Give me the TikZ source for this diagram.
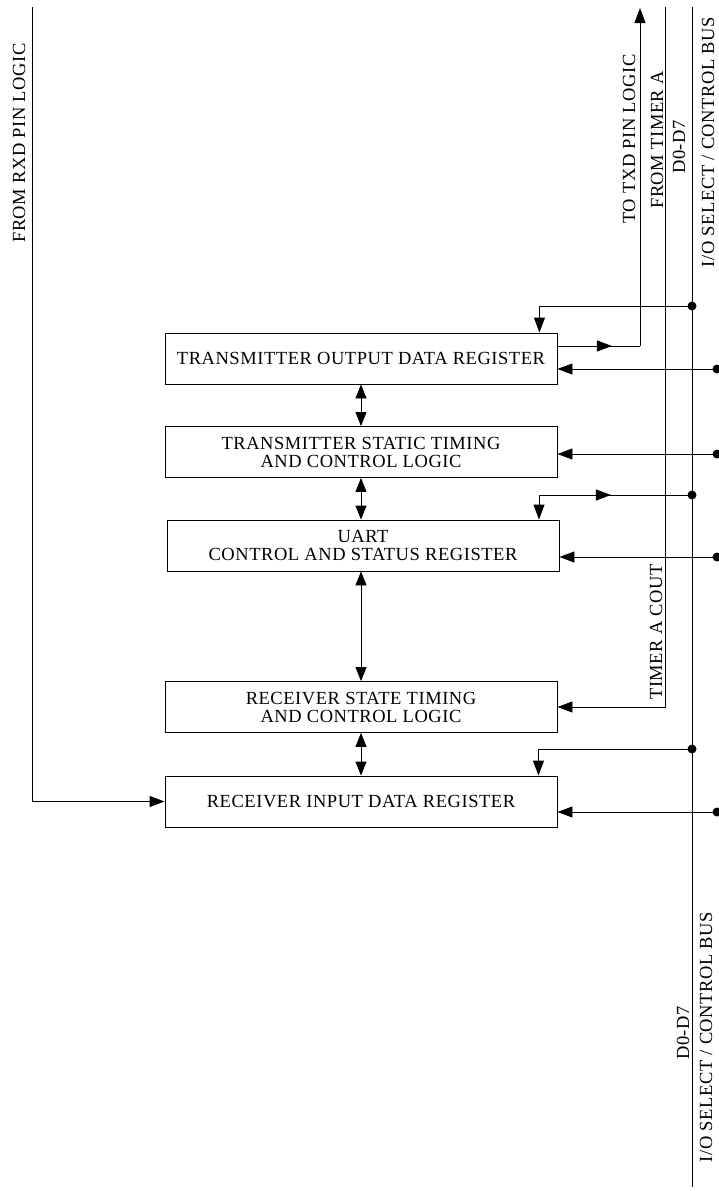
\documentclass[tikz,border=0pt]{standalone}
\usepackage{fontspec}
\setmainfont{Liberation Serif}[LetterSpace=3]
\usetikzlibrary{arrows.meta,decorations.markings}
\begin{document}
\begin{tikzpicture}[x=1pt,y=-1pt,line width=0.9pt,
  box/.style={draw,minimum width=392pt,minimum height=51pt,inner sep=0pt,align=center,font=\fontsize{18.5}{18}\selectfont},
  lbl/.style={rotate=90,inner sep=0pt,anchor=base,font=\fontsize{18.5}{18}\selectfont},
  tip/.style={-{Triangle[length=15pt,width=11pt]}},
  dbl/.style={{Triangle[length=14pt,width=11pt]}-{Triangle[length=14pt,width=11pt]}},
  dot/.style={circle,fill,inner sep=0pt,minimum size=9pt},
  midarrow/.style={postaction={decorate},decoration={markings,mark=at position #1 with {\arrow{Triangle[length=15pt,width=11pt]}}}}
]
\useasboundingbox (0,0) rectangle (718,1191);

% boxes
\node[box] (txo) at (361,358.5) {TRANSMITTER OUTPUT DATA REGISTER};
\node[box] (txs) at (361,452) {TRANSMITTER STATIC TIMING\\AND CONTROL LOGIC};
\node[box] (uart) at (363,545.5) {UART\\CONTROL AND STATUS REGISTER};
\node[box] (rxs) at (361,707) {RECEIVER STATE TIMING\\AND CONTROL LOGIC};
\node[box] (rxi) at (361,801.5) {RECEIVER INPUT DATA REGISTER};

% vertical double arrows
\draw[dbl] (txo.south) -- (txs.north);
\draw[dbl] (txs.south) -- (txs.south |- uart.north);
\draw[dbl] (txs.south |- uart.south) -- (rxs.north);
\draw[dbl] (rxs.south) -- (rxi.north);

% bus
\coordinate (bt) at (692,7);
\coordinate (bb) at (692,1187);
\draw (bt) -- (bb);
\node[dot] (d1) at (692,306) {};
\node[dot] (d2) at (692,495) {};
\node[dot] (d3) at (692,749) {};
\draw[tip] (d1.center) -| ([xshift=-18pt]txo.north east);
\coordinate (uc) at (539,495);
\draw[tip] (uc) -- (uc |- uart.north);
\draw[midarrow=0.47] (uc) -- (d2.center);
\draw[tip] (d3.center) -| ([xshift=-19pt]rxi.north east);

% right inputs
\node[dot] (r1) at (717,369) {};
\node[dot] (r2) at (717,454) {};
\node[dot] (r3) at (717,557) {};
\node[dot] (r4) at (717,812) {};
\draw[tip] (r1.center) -- (r1.center -| txo.east);
\draw[tip] (r2.center) -- (r2.center -| txs.east);
\draw[tip] (r3.center) -- (r3.center -| uart.east);
\draw[tip] (r4.center) -- (r4.center -| rxi.east);

% timer A
\coordinate (tt) at (665,7);
\draw[tip] (tt) |- (rxs.east);

% TXD
\coordinate (txdc) at (640,346);
\coordinate (txdtop) at (640,8);
\draw[midarrow=0.66] ([yshift=12.5pt]txo.east) -- (txdc);
\draw[tip] (txdc) -- (txdtop);

% RXD
\coordinate (rxdtop) at (32,7);
\draw[tip] (rxdtop) |- (rxi.west);

% labels
\node[lbl] (l1) at (25,143) {FROM RXD PIN LOGIC};
\node[lbl] (l2) at (635,139) {TO TXD PIN LOGIC};
\node[lbl] (l3) at (663,140) {FROM TIMER A};
\node[lbl] (l4) at (685,147) {D0-D7};
\node[lbl] (l5) at (714,142) {I/O SELECT / CONTROL BUS};
\node[lbl] (l6) at (662,632) {TIMER A COUT};
\node[lbl] (l7) at (689,1033) {D0-D7};
\node[lbl] (l8) at (712,1037) {I/O SELECT / CONTROL BUS};
\end{tikzpicture}
\end{document}
